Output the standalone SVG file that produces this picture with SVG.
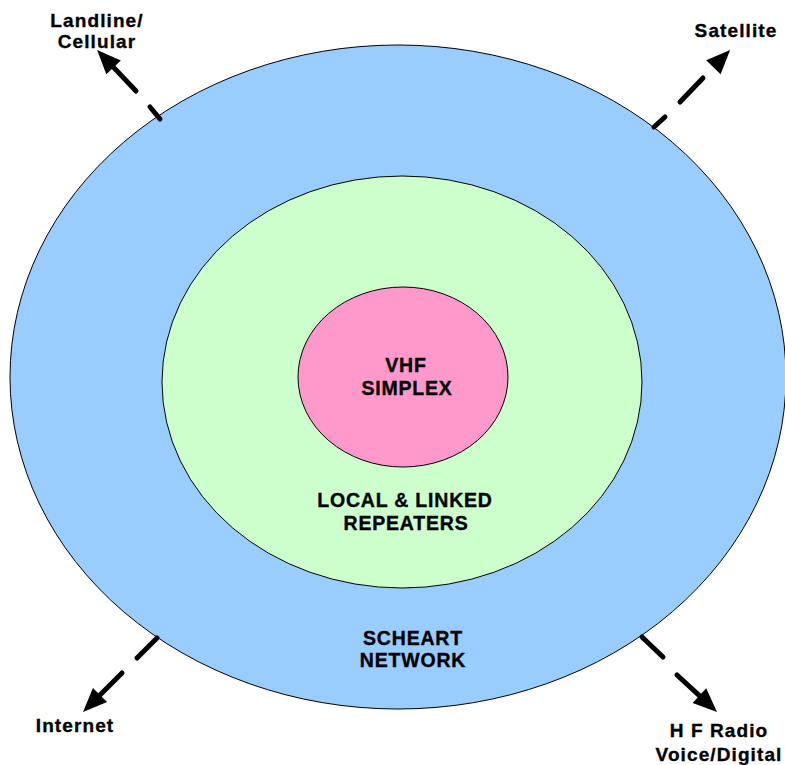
<svg xmlns="http://www.w3.org/2000/svg" width="785" height="765" viewBox="0 0 785 765">
<style>
text{font-family:"Liberation Sans",Arial,sans-serif;font-weight:bold;fill:#000;stroke:#000;stroke-width:0.35px;text-anchor:middle}
.lbl{font-size:19.5px;letter-spacing:0.8px}
.ext{font-size:19px;letter-spacing:1.1px}
.ell{stroke:#000;stroke-width:1}
.con{stroke:#000;stroke-width:5;stroke-linecap:round;fill:none}
</style>
<defs>
<marker id="ah" markerUnits="userSpaceOnUse" markerWidth="24" markerHeight="20" refX="0" refY="10" orient="auto" viewBox="0 0 24 20" overflow="visible">
<path d="M0,0 L24,10 L0,20 Z" fill="#000"/>
</marker>
</defs>
<rect width="785" height="765" fill="#fff"/>
<g id="scheart">
<ellipse class="ell" cx="398" cy="377" rx="388" ry="332" fill="#99ccff"/>
<text class="lbl" x="413" y="645">SCHEART</text>
<text class="lbl" x="413" y="667">NETWORK</text>
</g>
<g id="repeaters">
<ellipse class="ell" cx="402" cy="382" rx="240" ry="206" fill="#ccffcc"/>
<text class="lbl" x="405" y="507">LOCAL &amp; LINKED</text>
<text class="lbl" x="406" y="530">REPEATERS</text>
</g>
<g id="simplex">
<ellipse class="ell" cx="403" cy="377" rx="105" ry="90" fill="#ff99cc"/>
<text class="lbl" x="406" y="372">VHF</text>
<text class="lbl" x="407" y="395">SIMPLEX</text>
</g>
<g id="connectors">
<line class="con" x1="160" y1="119" x2="150" y2="107"/>
<line class="con" x1="136" y1="91" x2="113.6" y2="67.4" marker-end="url(#ah)"/>
<line class="con" x1="654" y1="127" x2="665" y2="117"/>
<line class="con" x1="680" y1="102" x2="703" y2="78"/>
<line x1="703" y1="78" x2="713.4" y2="67.3" stroke="none" marker-end="url(#ah)"/>
<line class="con" x1="157" y1="638" x2="137" y2="658"/>
<line class="con" x1="122" y1="673" x2="100" y2="695" marker-end="url(#ah)"/>
<line class="con" x1="642" y1="637" x2="663" y2="657"/>
<line class="con" x1="677" y1="675" x2="699.4" y2="695.7" marker-end="url(#ah)"/>
</g>
<g id="landline"><text class="ext" x="97" y="27">Landline/</text><text class="ext" x="97" y="48">Cellular</text></g>
<g id="satellite"><text class="ext" x="736" y="37">Satellite</text></g>
<g id="internet"><text class="ext" x="75" y="732">Internet</text></g>
<g id="hfradio"><text class="ext" x="719" y="737">H F Radio</text><text class="ext" x="719" y="761">Voice/Digital</text></g>
</svg>
